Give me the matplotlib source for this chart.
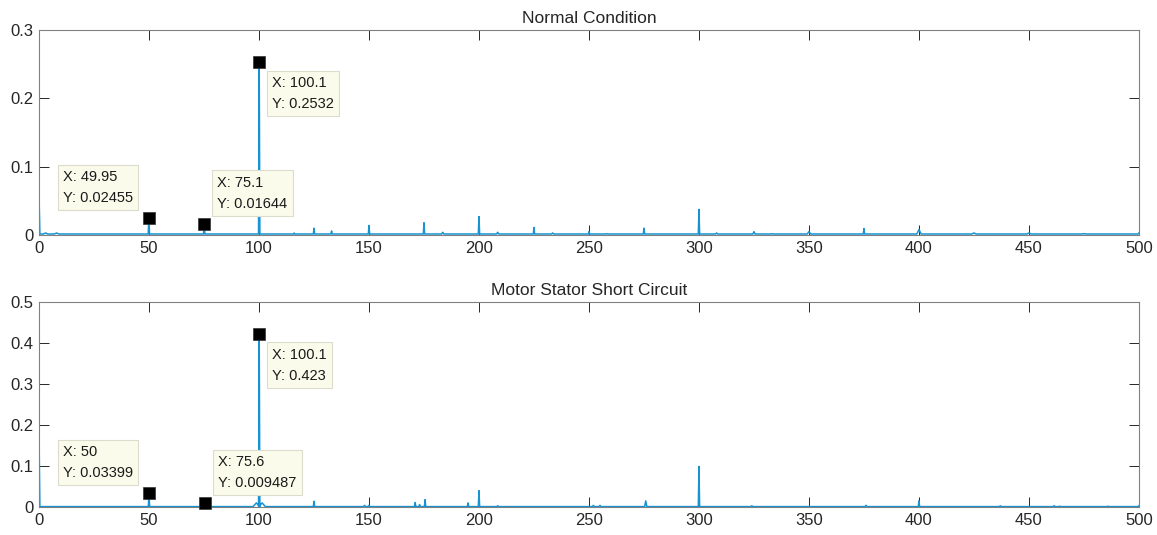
import numpy as np
import matplotlib
matplotlib.use("Agg")
import matplotlib.pyplot as plt
from matplotlib.ticker import FuncFormatter

# ---- spectrum peaks (Hz, amplitude, half width) ----
top_start = 0.06
top_floor = 0.0015
top_freq = [3, 8, 49.95, 75.1, 100.1, 116, 125, 133, 150, 175, 183.5, 200, 208.5,
            225, 233.5, 250, 258, 275, 300, 308, 325, 333, 350, 375, 400, 425, 450, 475]
top_amp = [0.003, 0.003, 0.02455, 0.01644, 0.2532, 0.003, 0.01, 0.006, 0.014, 0.018, 0.004,
           0.027, 0.004, 0.011, 0.003, 0.005, 0.002, 0.01, 0.0375, 0.003, 0.005, 0.002,
           0.005, 0.0095, 0.008, 0.003, 0.003, 0.002]
top_width = [1.0, 1.0, 0.3, 0.3, 0.3, 0.3, 0.3, 0.3, 0.3, 0.3, 0.5, 0.3, 0.5,
             0.3, 0.5, 0.3, 0.5, 0.3, 0.3, 0.5, 0.5, 0.5, 0.8, 0.3, 1.0, 1.0, 1.0, 1.0]
top_end = 0.003

bot_start = 0.18
bot_floor = 0.001
bot_freq = [50, 75.6, 98.8, 100.1, 101.4, 125, 148, 150, 171, 173, 175.5, 195, 200, 208.5,
            252, 255, 275.8, 300, 324, 376, 400, 437, 461.5, 464, 486]
bot_amp = [0.03399, 0.009487, 0.01, 0.423, 0.01, 0.014, 0.004, 0.004, 0.011, 0.006, 0.018,
           0.01, 0.04, 0.003, 0.004, 0.004, 0.015, 0.099, 0.003, 0.004, 0.015, 0.003,
           0.003, 0.002, 0.002]
bot_width = [0.3, 0.3, 1.5, 0.3, 1.5, 0.3, 0.5, 0.5, 0.3, 0.3, 0.3, 0.3, 0.3, 0.5,
             0.5, 0.5, 0.5, 0.3, 0.5, 0.5, 0.3, 0.5, 0.5, 0.5, 0.5]
bot_end = 0.003

# data tips
top_tips_x = [49.95, 75.1, 100.1]
top_tips_y = [0.02455, 0.01644, 0.2532]
bot_tips_x = [50, 75.6, 100.1]
bot_tips_y = [0.03399, 0.009487, 0.423]
# where the box sits relative to the marker (pixels, y up)
tip_offsets = [(-16, 13), (13, 13), (13, -14)]
tip_align = [("right", "bottom"), ("left", "bottom"), ("left", "top")]

titles = ["Normal Condition", "Motor Stator Short Circuit"]
top_yticks = [0, 0.1, 0.2, 0.3]
bot_yticks = [0, 0.1, 0.2, 0.3, 0.4, 0.5]
xticks = list(range(0, 501, 50))

LINE = "#1593d3"
AXC = "#262626"


def build_spectrum(start, floor, freq, amp, width, end):
    xs = [0.0, 0.4]
    ys = [start, floor]
    for f, a, w in sorted(zip(freq, amp, width)):
        xs += [f - w, f, f + w]
        ys += [floor, a, floor]
    xs += [499.6, 500.0]
    ys += [floor, end]
    return np.array(xs), np.array(ys)


plt.rcParams["font.family"] = ["Liberation Sans", "DejaVu Sans"]
fig = plt.figure(figsize=(11.57, 5.35), dpi=100)
ax1 = fig.add_axes([0.0337, 0.5607, 0.9507, 0.3832])
ax2 = fig.add_axes([0.0337, 0.0523, 0.9507, 0.3832])

panels = [
    (ax1, build_spectrum(top_start, top_floor, top_freq, top_amp, top_width, top_end),
     top_tips_x, top_tips_y, top_yticks, titles[0]),
    (ax2, build_spectrum(bot_start, bot_floor, bot_freq, bot_amp, bot_width, bot_end),
     bot_tips_x, bot_tips_y, bot_yticks, titles[1]),
]

for ax, (sx, sy), tx, ty, yt, title in panels:
    ax.plot(sx, sy, color=LINE, lw=1.1)
    ax.set_xlim(0, 500)
    ax.set_ylim(yt[0], yt[-1])
    ax.set_xticks(xticks)
    ax.set_yticks(yt)
    ax.yaxis.set_major_formatter(FuncFormatter(lambda v, p: "%g" % v))
    ax.tick_params(direction="in", top=True, right=True, length=7, width=0.7,
                   colors=AXC, labelsize=12, pad=4)
    for sp in ax.spines.values():
        sp.set_color("#808080")
        sp.set_linewidth(0.8)
    ax.set_title(title, fontsize=12.5, color=AXC, pad=5)

    for (x, y), off, (ha, va) in zip(zip(tx, ty), tip_offsets, tip_align):
        ax.plot([x], [y], marker="s", ms=8, mfc="k", mec="#333333", mew=0.5,
                zorder=5, clip_on=False)
        ax.annotate("X: %.4g\nY: %.4g" % (x, y), xy=(x, y), xytext=off,
                    textcoords="offset pixels", ha=ha, va=va, multialignment="left",
                    fontsize=10.5, color="#1a1a1a", linespacing=1.65, zorder=6,
                    bbox=dict(boxstyle="square,pad=0.36", fc="#fbfbeb", ec="#dcdccc", lw=0.8))

fig.savefig("out.png", dpi=100)
